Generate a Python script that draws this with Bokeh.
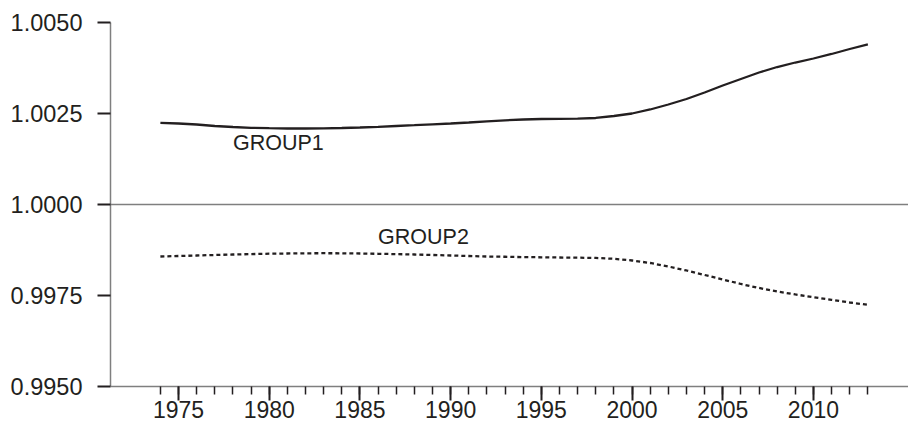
from bokeh.plotting import figure
from bokeh.models import Range1d, FixedTicker, PrintfTickFormatter
from bokeh.embed import file_html
from bokeh.resources import INLINE
from bokeh.core.properties import value

years = list(range(1974, 2014))
group1 = [1.002245, 1.002225, 1.002198, 1.002157, 1.002129, 1.002107, 1.002096, 1.002088,
          1.002088, 1.002093, 1.002102, 1.002116, 1.002135, 1.002157, 1.002179, 1.002203,
          1.002225, 1.002253, 1.002286, 1.002313, 1.002335, 1.002349, 1.002355, 1.002357,
          1.002377, 1.002431, 1.002500, 1.002610, 1.002747, 1.002898, 1.003077, 1.003269,
          1.003448, 1.003626, 1.003777, 1.003901, 1.004011, 1.004135, 1.004272, 1.004396]
group2 = [0.998571, 0.998585, 0.998599, 0.998613, 0.998626, 0.998637, 0.998648, 0.998654,
          0.998659, 0.998662, 0.998659, 0.998654, 0.998646, 0.998637, 0.998626, 0.998613,
          0.998599, 0.998585, 0.998571, 0.998564, 0.998555, 0.998550, 0.998544, 0.998539,
          0.998531, 0.998509, 0.998462, 0.998393, 0.998297, 0.998187, 0.998064, 0.997940,
          0.997816, 0.997707, 0.997610, 0.997528, 0.997454, 0.997382, 0.997308, 0.997245]

series_names = ["GROUP1", "GROUP2"]
label_years = [1978.0, 1986.0]
label_values = [1.001690, 0.999110]

x_major_ticks = list(range(1975, 2011, 5))
x_minor_ticks = list(range(1974, 2014))
y_ticks = [0.995, 0.9975, 1.0, 1.0025, 1.005]
y_grid_ticks = [0.995, 1.0, 1.005]

INK = "#231f20"
GREY = "#7f7f7f"
FONT = "Liberation Sans"

p = figure(width=908, height=424, output_backend="svg", toolbar_location=None,
           x_range=Range1d(1971.25, 2015.24), y_range=Range1d(0.995, 1.005),
           min_border_left=110, min_border_right=0, min_border_top=22, min_border_bottom=38)
p.outline_line_color = None
p.background_fill_color = "white"
p.border_fill_color = "white"

p.line(years, group1, line_color=INK, line_width=2.3)
p.line(years, group2, line_color=INK, line_width=2.3, line_dash="4 3")

p.text(x=label_years, y=label_values, text=series_names, text_font=value(FONT),
       text_font_size="21.5px", text_color=INK, text_align="left", text_baseline="alphabetic")

# grids
p.xgrid.grid_line_color = None
p.ygrid.ticker = FixedTicker(ticks=y_grid_ticks)
p.ygrid.grid_line_color = GREY
p.ygrid.grid_line_width = 1.5

# x axis
xa = p.xaxis[0]
xa.ticker = FixedTicker(ticks=x_major_ticks, minor_ticks=x_minor_ticks)
xa.axis_line_color = GREY
xa.axis_line_width = 1.5
xa.major_tick_line_color = INK
xa.major_tick_line_width = 2
xa.major_tick_out = 14
xa.major_tick_in = 0
xa.minor_tick_line_color = INK
xa.minor_tick_line_width = 1.5
xa.minor_tick_out = 8
xa.minor_tick_in = 0
xa.major_label_text_font = FONT
xa.major_label_text_font_size = "23px"
xa.major_label_text_color = INK
xa.major_label_standoff = 0

# y axis
ya = p.yaxis[0]
ya.ticker = FixedTicker(ticks=y_ticks)
ya.formatter = PrintfTickFormatter(format="%.4f")
ya.axis_line_color = GREY
ya.axis_line_width = 1.5
ya.major_tick_line_color = INK
ya.major_tick_line_width = 2
ya.major_tick_out = 13
ya.major_tick_in = 0
ya.minor_tick_line_color = None
ya.major_label_text_font = FONT
ya.major_label_text_font_size = "23.5px"
ya.major_label_text_color = INK
ya.major_label_standoff = 15

open("out.html", "w").write(file_html(p, INLINE))
